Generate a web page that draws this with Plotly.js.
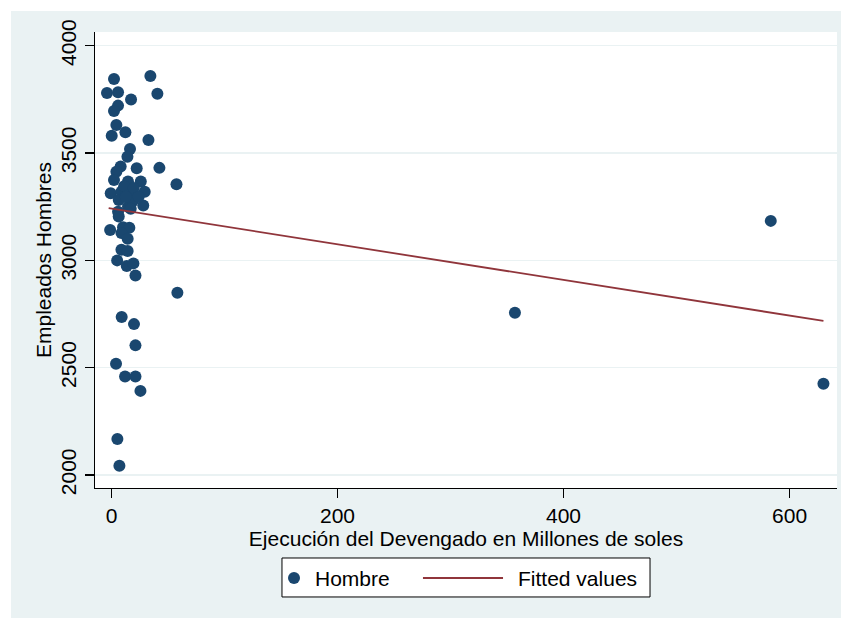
<!DOCTYPE html>
<html>
<head>
<meta charset="utf-8">
<script src="https://cdn.plot.ly/plotly-3.0.1.min.js"></script>
<style>
  html, body { margin: 0; padding: 0; background: #ffffff; }
  #chart { position: absolute; left: 11px; top: 11px; width: 830px; height: 607px; }
</style>
</head>
<body>
<div id="chart"></div>
<script>
// Scatter: Ejecución del Devengado (millones de soles) vs Empleados Hombres
const gastoX = [
  2.2, 34.4, -4.0, 5.8, 40.6, 17.3, 5.8, 2.2, 4.3, 0.2, 12.3, 32.7, 16.4, 14.1,
  8.1, 4.3, 22.3, 42.4, 57.5,
  2.2, 14.6, 25.9, -0.7, 8.8, 17.6, 29.4, 28.1, 14.6, 5.8, 6.4, -1.2, 10.2, 15.8,
  8.8, 14.3, 8.8, 14.3, 5.0, 13.5, 19.4, 21.2,
  11.2, 19.7, 6.4, 18.8, 24.0, 12.6, 17.0,
  58.3, 9.0, 19.9, 21.2, 4.0, 12.0, 21.2, 25.6, 5.2, 7.0,
  583.4, 630.0, 357.0
];
const empleadosY = [
  3845, 3859, 3780, 3783, 3776, 3749, 3721, 3696, 3631, 3581, 3597, 3561, 3519, 3483,
  3437, 3413, 3429, 3431, 3355,
  3374, 3367, 3367, 3313, 3320, 3313, 3320, 3256, 3250, 3227, 3204, 3141, 3154, 3152,
  3127, 3101, 3049, 3044, 3000, 2974, 2986, 2930,
  3345, 3337, 3281, 3277, 3296, 3296, 3240,
  2849, 2736, 2703, 2604, 2518, 2459, 2459, 2392, 2168, 2043,
  3184, 2425, 2756
];
// Fitted values line (endpoints)
const fitX = [-2.5, 630];
const fitY = [3243, 2718];

const xTicks = [0, 200, 400, 600];
const yTicks = [2000, 2500, 3000, 3500, 4000];
const seriesNames = ['Hombre', 'Fitted values'];

const FONT = "Liberation Sans, Arial, Helvetica, sans-serif";
const NAVY = '#1a476f';
const MAROON = '#90353b';
const FS = 21;

const traces = [
  {
    x: gastoX, y: empleadosY, type: 'scatter', mode: 'markers', name: seriesNames[0],
    marker: { color: NAVY, size: 12, line: { width: 0 } },
    cliponaxis: false
  },
  {
    x: fitX, y: fitY, type: 'scatter', mode: 'lines', name: seriesNames[1],
    line: { color: MAROON, width: 1.8 }
  }
];

// Legend (Stata style box below the plot), drawn in paper coordinates
const legY = -0.1974;
const shapes = [
  { type: 'rect', xref: 'paper', yref: 'paper', x0: 0.2520, x1: 0.7480, y0: -0.2390, y1: -0.1535,
    fillcolor: '#ffffff', line: { color: '#000000', width: 1 }, layer: 'above' },
  { type: 'circle', xref: 'paper', yref: 'paper', xsizemode: 'pixel', ysizemode: 'pixel',
    xanchor: 0.2682, yanchor: legY, x0: -6, x1: 6, y0: -6, y1: 6,
    fillcolor: NAVY, line: { width: 0 }, layer: 'above' },
  { type: 'line', xref: 'paper', yref: 'paper', x0: 0.4420, x1: 0.5499, y0: legY, y1: legY,
    line: { color: MAROON, width: 1.8 }, layer: 'above' }
];
const annotations = [
  { xref: 'paper', yref: 'paper', x: 0.2938, y: legY, xanchor: 'left', yanchor: 'middle',
    text: seriesNames[0], showarrow: false, font: { family: FONT, size: FS, color: '#000' } },
  { xref: 'paper', yref: 'paper', x: 0.5674, y: legY, xanchor: 'left', yanchor: 'middle',
    text: seriesNames[1], showarrow: false, font: { family: FONT, size: FS, color: '#000' } }
];

const layout = {
  width: 830, height: 607,
  margin: { l: 84, r: 4, t: 21, b: 130 },
  paper_bgcolor: '#eaf2f3',
  plot_bgcolor: '#ffffff',
  font: { family: FONT, size: FS, color: '#000000' },
  showlegend: false,
  shapes: shapes,
  annotations: annotations,
  xaxis: {
    range: [-14.6, 642],
    tickvals: xTicks, ticktext: xTicks.map(String),
    ticks: 'outside', ticklen: 9, tickwidth: 1.2, tickcolor: '#000',
    showline: true, linecolor: '#000', linewidth: 1.2,
    showgrid: false, zeroline: false,
    tickfont: { family: FONT, size: FS },
    title: { text: 'Ejecución del Devengado en Millones de soles', font: { family: FONT, size: FS }, standoff: 0 }
  },
  yaxis: {
    range: [1939.5, 4064],
    tickvals: yTicks, ticktext: yTicks.map(String),
    ticks: 'outside', ticklen: 9, tickwidth: 1.2, tickcolor: '#000',
    tickangle: -90,
    showline: true, linecolor: '#000', linewidth: 1.2,
    showgrid: true, gridcolor: '#eaf2f3', gridwidth: 1.5,
    zeroline: false,
    tickfont: { family: FONT, size: FS },
    title: { text: 'Empleados Hombres', font: { family: FONT, size: FS }, standoff: 0 }
  }
};

Plotly.newPlot('chart', traces, layout, { displayModeBar: false, staticPlot: true });
</script>
</body>
</html>
